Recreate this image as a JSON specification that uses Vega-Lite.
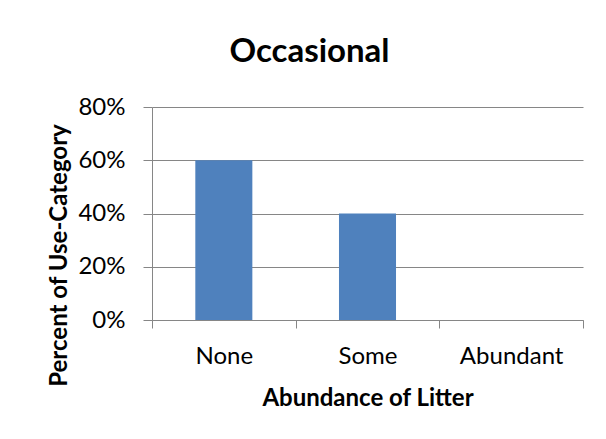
{
  "$schema": "https://vega.github.io/schema/vega-lite/v6.json",
  "width": 431,
  "height": 213,
  "autosize": {"type": "none"},
  "padding": {"left": 152, "top": 107, "right": 23, "bottom": 119},
  "background": "white",
  "config": {
    "font": "Lato",
    "view": {"stroke": null}
  },
  "title": {
    "text": "Occasional",
    "fontSize": 33,
    "fontWeight": "bold",
    "color": "#000000",
    "anchor": "middle",
    "baseline": "alphabetic",
    "dx": -58,
    "offset": 0
  },
  "data": {
    "values": [
      {"category": "None", "percent": 0.6},
      {"category": "Some", "percent": 0.4},
      {"category": "Abundant", "percent": 0.0}
    ]
  },
  "mark": {"type": "bar", "color": "#4F81BD", "width": {"band": 0.397}},
  "encoding": {
    "x": {
      "field": "category",
      "type": "nominal",
      "sort": ["None", "Some", "Abundant"],
      "scale": {"paddingInner": 0, "paddingOuter": 0},
      "axis": {
        "title": "Abundance of Litter",
        "titleFontSize": 24,
        "titleFontWeight": "bold",
        "titleColor": "#000000",
        "titlePadding": 18,
        "labelAngle": 0,
        "labelFontSize": 24,
        "labelColor": "#000000",
        "labelPadding": 16,
        "tickBand": "extent",
        "tickSize": 8,
        "tickColor": "#868686",
        "domainColor": "#868686",
        "grid": false
      }
    },
    "y": {
      "field": "percent",
      "type": "quantitative",
      "scale": {"domain": [0, 0.8]},
      "axis": {
        "title": "Percent of Use-Category",
        "titleFontSize": 24,
        "titleFontWeight": "bold",
        "titleColor": "#000000",
        "titlePadding": 6,
        "titleY": 148,
        "format": ".0%",
        "values": [0, 0.2, 0.4, 0.6, 0.8],
        "labelFontSize": 24,
        "labelColor": "#000000",
        "labelPadding": 18,
        "tickSize": 9,
        "tickColor": "#868686",
        "domainColor": "#868686",
        "grid": true,
        "gridColor": "#868686"
      }
    }
  }
}
